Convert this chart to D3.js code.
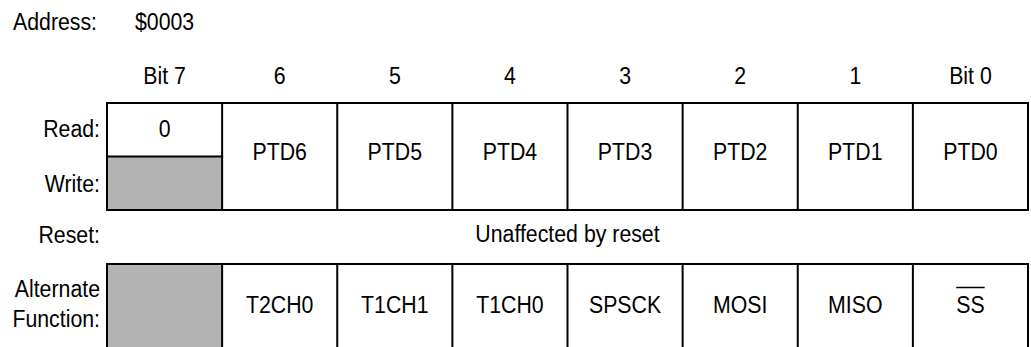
<!DOCTYPE html>
<html>
<head>
<meta charset="utf-8">
<script src="https://cdn.jsdelivr.net/npm/d3@7"></script>
<style>
  html, body { margin: 0; padding: 0; background: #fff; }
  svg { display: block; }
  text { font-family: "Liberation Sans", Arial, sans-serif; fill: #000; }
</style>
</head>
<body>
<svg id="chart" width="1031" height="347"></svg>
<script>
// ---- data ----
const addressLabel = "Address:";
const addressValue = "$0003";
const bitLabels = ["Bit 7", "6", "5", "4", "3", "2", "1", "Bit 0"];
const bitKeys = [7, 6, 5, 4, 3, 2, 1, 0];
const readValues = ["0", "PTD6", "PTD5", "PTD4", "PTD3", "PTD2", "PTD1", "PTD0"];
const writeReserved = [true, false, false, false, false, false, false, false];
const resetText = "Unaffected by reset";
const altFunctions = ["", "T2CH0", "T1CH1", "T1CH0", "SPSCK", "MOSI", "MISO", "SS"];
const altOverline = [false, false, false, false, false, false, false, true];
const rowLabels = ["Read:", "Write:", "Reset:"];
const altLabelLines = ["Alternate", "Function:"];

// ---- layout ----
const FS = 21.3, SX = 1.0, SY = 1.12;
const gray = "#b3b3b3";
const svg = d3.select("#chart");

const x = d3.scaleBand().domain(bitKeys).range([107, 1028]).paddingInner(0).paddingOuter(0);
const y = d3.scaleLinear().domain([0, 1]).range([103, 210]);
const regTop = y(0), regMid = y(0.5), regBot = y(1);
const altTop = 264, altBot = 349;

function txt(g, tx, ty, s, anchor) {
  return g.append("text")
    .attr("transform", `translate(${tx},${ty}) scale(${SX},${SY})`)
    .attr("text-anchor", anchor || "middle")
    .attr("font-size", FS)
    .text(s);
}

// address
txt(svg, 13, 30, addressLabel, "start");
txt(svg, 135, 30, addressValue, "start");

// bit headers
bitKeys.forEach((b, i) => txt(svg, x(b) + x.bandwidth() / 2, 84, bitLabels[i]));

// row labels
const labelX = 100;
txt(svg, labelX, 137, rowLabels[0], "end");
txt(svg, labelX, 192, rowLabels[1], "end");
txt(svg, labelX, 243, rowLabels[2], "end");
txt(svg, labelX, 297, altLabelLines[0], "end");
txt(svg, labelX, 327, altLabelLines[1], "end");

// gray fills
bitKeys.forEach((b, i) => {
  if (writeReserved[i]) {
    svg.append("rect").attr("x", x(b)).attr("y", regMid).attr("width", x.bandwidth()).attr("height", regBot - regMid).attr("fill", gray);
  }
  if (!altFunctions[i]) {
    svg.append("rect").attr("x", x(b)).attr("y", altTop).attr("width", x.bandwidth()).attr("height", altBot - altTop).attr("fill", gray);
  }
});

// register cell texts
bitKeys.forEach((b, i) => {
  const cx = x(b) + x.bandwidth() / 2;
  if (writeReserved[i]) {
    txt(svg, cx, 137, readValues[i]);
  } else {
    txt(svg, cx, 160, readValues[i]);
  }
  if (altFunctions[i]) {
    const t = txt(svg, cx, 313, altFunctions[i]);
    if (altOverline[i]) {
      const bb = t.node().getBBox();
      const w = bb.width * SX;
      svg.append("line").attr("x1", cx - w / 2).attr("x2", cx + w / 2)
        .attr("y1", 287.5).attr("y2", 287.5)
        .attr("stroke", "#000").attr("stroke-width", 1.5);
    }
  }
});

// reset text
txt(svg, (x(7) + x(0) + x.bandwidth()) / 2, 242, resetText);

// grid lines
const lines = [];
const left = x(7), right = x(0) + x.bandwidth();
lines.push([left, regTop, right, regTop]);
lines.push([left, regBot, right, regBot]);
lines.push([left, regMid, x(7) + x.bandwidth(), regMid]);
lines.push([left, altTop, right, altTop]);
lines.push([left, altBot, right, altBot]);
bitKeys.forEach(b => {
  lines.push([x(b), regTop, x(b), regBot]);
  lines.push([x(b), altTop, x(b), altBot]);
});
lines.push([right, regTop, right, regBot]);
lines.push([right, altTop, right, altBot]);
svg.selectAll("line.grid").data(lines).enter().append("line").attr("class", "grid")
  .attr("x1", d => d[0]).attr("y1", d => d[1]).attr("x2", d => d[2]).attr("y2", d => d[3])
  .attr("stroke", "#000").attr("stroke-width", 2).attr("stroke-linecap", "square");
</script>
</body>
</html>
